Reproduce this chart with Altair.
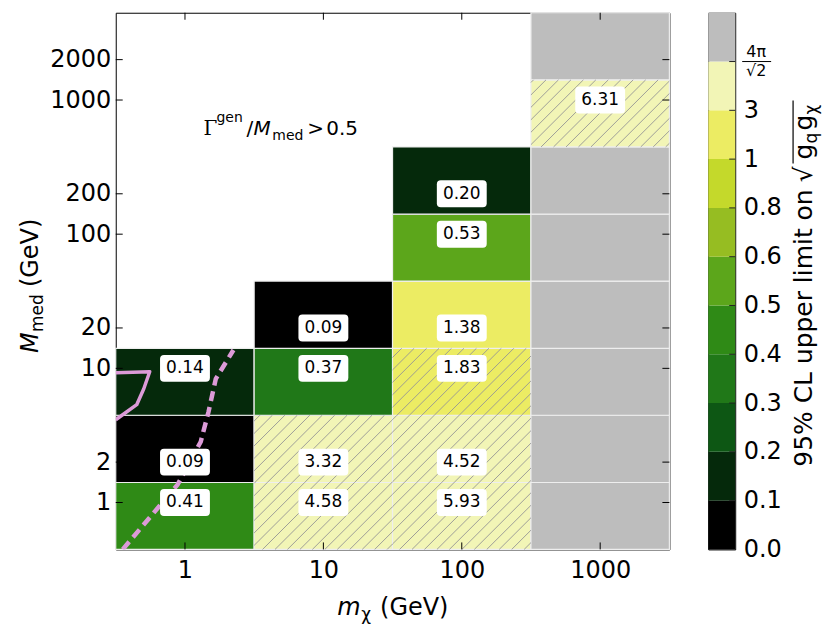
import math
from bisect import bisect_right
import altair as alt
import pandas as pd

# ---------------- data ----------------
m_chi = [1, 10, 100, 1000]                       # GeV, column centres
M_med = [1, 2, 10, 20, 100, 200, 1000, 2000]     # GeV, row points
m_edges = [0.316, 3.16, 31.6, 316, 3162]
M_edges = [0.447, 1.41, 4.47, 14.1, 44.7, 141, 447, 1414, 4472]

# upper limits, bottom (M_med=1) to top; None = not generated, "NP" = above 4pi/sqrt2
limits_m1 = [0.41, 0.09, 0.14, None, None, None, None, None]
limits_m10 = [4.58, 3.32, 0.37, 0.09, None, None, None, None]
limits_m100 = [5.93, 4.52, 1.83, 1.38, 0.53, 0.199, None, None]
limits_m1000 = ["NP", "NP", "NP", "NP", "NP", "NP", 6.31, "NP"]
hatched_cells = [(10, 1), (10, 2), (100, 1), (100, 2), (100, 10), (1000, 1000)]

cbar_thresholds = [0.1, 0.2, 0.3, 0.4, 0.5, 0.6, 0.8, 1, 3, 4 * math.pi / math.sqrt(2)]
cbar_labels = ["0.0", "0.1", "0.2", "0.3", "0.4", "0.5", "0.6", "0.8", "1", "3"]
cbar_colors = ["#000000", "#05290b", "#0d5714", "#207818", "#2f8a16", "#5ca61b",
               "#96bd22", "#c4d92b", "#ecec63", "#f2f5b6", "#bdbdbd"]

contour_m = [0.316, 0.448, 0.504, 0.556, 0.316]
contour_M = [4.14, 5.36, 7.05, 9.43, 9.27]
width_m = [0.355, 0.885, 1.30, 1.48, 1.67, 2.24]
width_M = [0.447, 1.36, 2.84, 4.75, 8.36, 13.7]

# ---------------- tables ----------------
rows = []
for i, (mv, col) in enumerate(zip(m_chi, [limits_m1, limits_m10, limits_m100, limits_m1000])):
    for j, v in enumerate(col):
        if v is None:
            continue
        np_flag = (v == "NP")
        rows.append(dict(
            m=mv, M=M_med[j],
            x0=m_edges[i], x1=m_edges[i + 1], y0=M_edges[j], y1=M_edges[j + 1],
            bin=10 if np_flag else bisect_right(cbar_thresholds, v),
            label="" if np_flag else f"{v:.2f}",
        ))
cells = pd.DataFrame(rows)
labels_df = cells[cells["label"] != ""]

# hatch segments derived from hatched cell edges (log space, ~45 deg)
slope = 1.03
step = 0.09 * slope
hrows = []
for mv, Mv in hatched_cells:
    i = m_chi.index(mv)
    j = M_med.index(Mv)
    a0, a1 = math.log10(m_edges[i]), math.log10(m_edges[i + 1])
    b0, b1 = math.log10(M_edges[j]), math.log10(M_edges[j + 1])
    kmin = math.floor((b0 - slope * a1) / step)
    kmax = math.ceil((b1 - slope * a0) / step)
    for k in range(kmin, kmax + 1):
        c = k * step
        u0 = max(a0, (b0 - c) / slope)
        u1 = min(a1, (b1 - c) / slope)
        if u1 - u0 > 1e-6:
            hrows.append(dict(hx0=10 ** u0, hx1=10 ** u1,
                              hy0=10 ** (slope * u0 + c), hy1=10 ** (slope * u1 + c)))
hatch_df = pd.DataFrame(hrows)

contour_df = pd.DataFrame({"m": contour_m, "M": contour_M, "i": range(len(contour_m))})
width_df = pd.DataFrame({"m": width_m, "M": width_M, "i": range(len(width_m))})
mt_df = pd.DataFrame({"m": m_chi})
Mt_df = pd.DataFrame({"M": M_med})

FONT = "DejaVu Sans"
W, H = 555, 538
xscale = alt.Scale(type="log", domain=[m_edges[0], m_edges[-1]], nice=False)
yscale = alt.Scale(type="log", domain=[M_edges[0], M_edges[-1]], nice=False)
cscale = alt.Scale(domain=list(range(11)), range=cbar_colors)

x_axis = alt.Axis(values=m_chi, format="d", labelFontSize=24, labelFont=FONT, labelPadding=9,
                  ticks=False, domain=False, grid=False, title="", labelColor="black")
y_axis = alt.Axis(values=M_med, format="d", labelFontSize=24, labelFont=FONT, labelPadding=5,
                  ticks=False, domain=False, grid=False, title="", labelColor="black")


def X(field):
    return alt.X(field, scale=xscale, axis=x_axis, title="")


def Y(field):
    return alt.Y(field, scale=yscale, axis=y_axis, title="")


one = pd.DataFrame({"a": [0]})


def txt(text, x, y, size=24, angle=0, style="normal", font=FONT, align="left", baseline="alphabetic"):
    kw = dict(text=text, font=font, fontSize=size, fontStyle=style, align=align,
              baseline=baseline, color="black")
    if angle:
        kw["angle"] = angle
    return alt.Chart(one).mark_text(**kw).encode(x=alt.value(x), y=alt.value(y))


rects = alt.Chart(cells).mark_rect(stroke="#eeeeee", strokeWidth=1.2).encode(
    x=X("x0:Q"), x2="x1:Q", y=Y("y0:Q"), y2="y1:Q",
    color=alt.Color("bin:O", scale=cscale, legend=None),
)
hatch = alt.Chart(hatch_df).mark_rule(color="#959595", strokeWidth=0.9).encode(
    x=X("hx0:Q"), x2="hx1:Q", y=Y("hy0:Q"), y2="hy1:Q",
)
contour = alt.Chart(contour_df).mark_line(color="#dc9ad8", strokeWidth=3.5, clip=True,
                                          strokeJoin="round").encode(
    x=X("m:Q"), y=Y("M:Q"), order="i:Q")
wline = alt.Chart(width_df).mark_line(color="#dc9ad8", strokeWidth=4.5, strokeDash=[10, 6],
                                      clip=True).encode(
    x=X("m:Q"), y=Y("M:Q"), order="i:Q")

box_path = ("M-0.84,-0.54L0.84,-0.54Q1,-0.54,1,-0.38L1,0.38Q1,0.54,0.84,0.54"
            "L-0.84,0.54Q-1,0.54,-1,0.38L-1,-0.38Q-1,-0.54,-0.84,-0.54Z")
boxes = alt.Chart(labels_df).mark_point(shape=box_path, filled=True, color="white", opacity=1,
                                        size=2500, strokeWidth=0).encode(
    x=X("m:Q"), y=Y("M:Q"))
ltext = alt.Chart(labels_df).mark_text(font=FONT, fontSize=17, color="black", align="center",
                                       baseline="middle").encode(
    x=X("m:Q"), y=Y("M:Q"), text="label:N")

tl = alt.Chart(Mt_df).mark_rule(color="black").encode(
    y=Y("M:Q"), x=alt.value(0), x2=alt.value(7))
tr = alt.Chart(Mt_df).mark_rule(color="black").encode(
    y=Y("M:Q"), x=alt.value(W - 7), x2=alt.value(W))
tb = alt.Chart(mt_df).mark_rule(color="black").encode(
    x=X("m:Q"), y=alt.value(H - 7), y2=alt.value(H))
tt = alt.Chart(mt_df).mark_rule(color="black").encode(
    x=X("m:Q"), y=alt.value(0), y2=alt.value(7))

annot = [
    txt("Γ", 88, 123, size=20, font="DejaVu Serif"),
    txt("gen", 101, 110, size=14),
    txt("/", 131, 123, size=20),
    txt("M", 138, 123, size=20, style="italic"),
    txt("med", 157, 128, size=14),
    txt(">", 192, 123, size=20),
    txt("0.5", 211, 123, size=20),
    # x title
    txt("m", 222, 604, style="italic"),
    txt("χ", 246, 609, size=17),
    txt("(GeV)", 265, 604),
    # y title
    txt("M", -78, 341, angle=270, style="italic"),
    txt("med", -73, 320, size=17, angle=270),
    txt("(GeV)", -78, 275, angle=270),
]

heat = alt.layer(rects, hatch, contour, wline, boxes, ltext, tl, tr, tb, tt, *annot).properties(
    width=W, height=H)

# ---------------- colour bar ----------------
cb_df = pd.DataFrame({"lo": list(range(11)), "hi": list(range(1, 12)), "bin": list(range(11))})
cb_ticks = pd.DataFrame({"lo": list(range(1, 11))})
frac_df = pd.DataFrame({"lo": [10]})
cbscale = alt.Scale(domain=[0, 11], nice=False, zero=False)
lab_expr = "[" + ",".join(f"'{s}'" for s in cbar_labels) + ",''][datum.value]"
cb_axis = alt.Axis(orient="right", values=list(range(10)), labelExpr=lab_expr,
                   labelFontSize=24, labelFont=FONT, labelPadding=8, ticks=False,
                   domain=False, grid=False, title="", labelColor="black",
                   labelBaseline="middle")
CW = 27


def CY(field):
    return alt.Y(field, scale=cbscale, axis=cb_axis, title="")


cb_rect = alt.Chart(cb_df).mark_rect().encode(
    y=CY("lo:Q"), y2="hi:Q", x=alt.value(0), x2=alt.value(CW),
    color=alt.Color("bin:O", scale=cscale, legend=None),
)
cb_tick = alt.Chart(cb_ticks).mark_rule(color="#222222").encode(
    y=CY("lo:Q"), x=alt.value(CW - 6), x2=alt.value(CW))
frac_top = alt.Chart(frac_df).mark_text(text="4π", font=FONT, fontSize=16, color="black",
                                        align="center", baseline="middle", dy=-10).encode(
    y=CY("lo:Q"), x=alt.value(48))
frac_bar = alt.Chart(frac_df).mark_rule(color="black", strokeWidth=1).encode(
    y=CY("lo:Q"), x=alt.value(34), x2=alt.value(63))
frac_bot = alt.Chart(frac_df).mark_text(text="√2", font=FONT, fontSize=16, color="black",
                                        align="center", baseline="middle", dy=10).encode(
    y=CY("lo:Q"), x=alt.value(48))

cb_title = [
    txt("95% CL upper limit on", 104, 455, size=25, angle=270),
    txt("√", 104, 170, size=25, angle=270),
    txt("g", 104, 147, size=25, angle=270),
    txt("q", 109, 131, size=17, angle=270),
    txt("g", 104, 118, size=25, angle=270),
    txt("χ", 109, 102, size=17, angle=270),
    alt.Chart(one).mark_rule(color="black", strokeWidth=1.2).encode(
        x=alt.value(85), y=alt.value(151), y2=alt.value(88)),
]

cbar = alt.layer(cb_rect, cb_tick, frac_top, frac_bar, frac_bot, *cb_title).properties(
    width=CW, height=H)

chart = alt.hconcat(heat, cbar, spacing=36).properties(
    padding={"left": 10, "top": 2, "right": 2, "bottom": 0}
).configure_view(stroke="black", strokeWidth=1).configure_concat(spacing=36)

chart.save("out.html", embed_options={"renderer": "svg", "actions": False})
